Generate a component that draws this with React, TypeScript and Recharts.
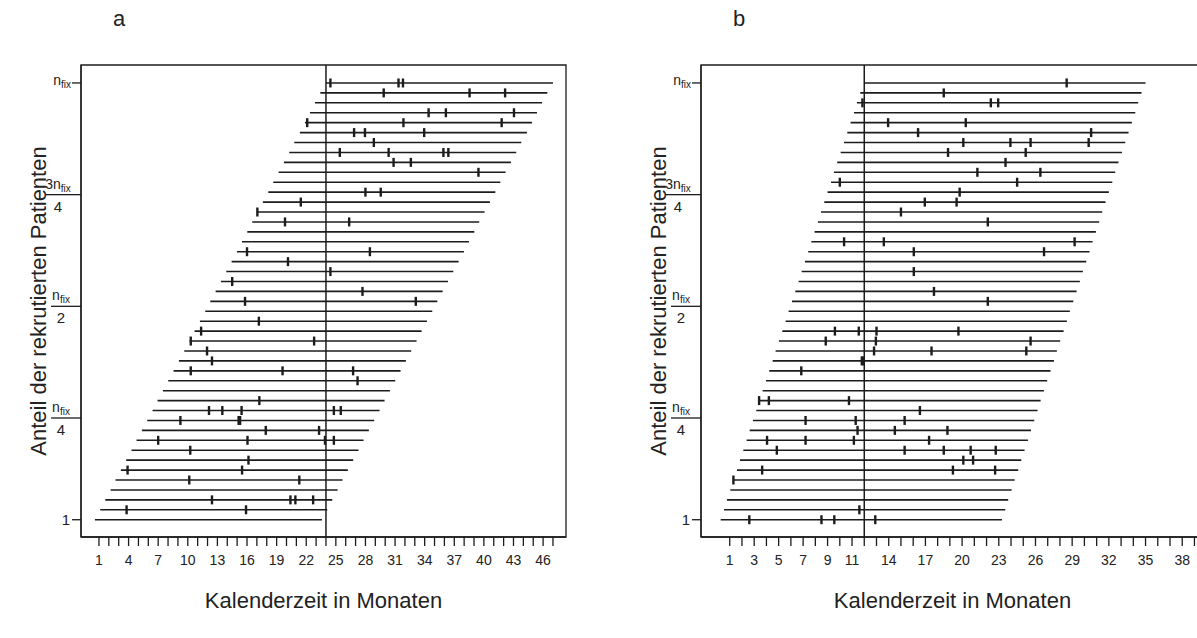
import { ComposedChart, Line, Scatter, XAxis, YAxis, ReferenceLine, ReferenceArea } from "recharts";

const FONT = '"Liberation Sans", Arial, sans-serif';
const INK = "#1c1c1c";

// each patient is followed for the same number of months
const FOLLOW_UP = 23;

// panel a: recruitment over 24 months (patient 1 .. 45, month of entry)
const entryA = [
  0.59, 1.13, 1.64, 2.18, 2.68, 3.22, 3.76, 4.3, 4.81, 5.35,
  5.89, 6.43, 6.94, 7.48, 8.02, 8.56, 9.1, 9.64, 10.18, 10.69,
  11.23, 11.77, 12.28, 12.82, 13.36, 13.9, 14.44, 14.98, 15.49, 16.03,
  16.53, 17.07, 17.61, 18.16, 18.66, 19.2, 19.74, 20.28, 20.79, 21.36,
  21.87, 22.38, 22.89, 23.43, 24.0,
];

// panel a: event times (month) per patient, patient 1 first
const eventsA: number[][] = [
  [], [3.8, 15.9], [12.45, 20.4, 20.9, 22.7], [], [10.15, 21.3],
  [3.9, 15.5], [16.15], [10.25], [7.0, 16.05, 23.9, 24.8], [17.9, 23.3],
  [9.25, 15.15, 15.3], [12.15, 13.5, 15.45, 24.8, 25.5], [17.25], [], [27.2],
  [10.3, 19.6, 26.75], [12.45], [11.95], [10.3, 22.8], [11.35],
  [17.2], [], [15.8, 33.1], [27.7], [14.5],
  [24.45], [20.15], [16.0, 28.45], [], [],
  [19.85, 26.35], [17.05], [21.45], [28.0, 29.55], [],
  [39.45], [30.85, 32.6], [25.4, 30.35, 35.9, 36.4], [28.85], [26.85, 27.95, 33.95],
  [22.1, 31.85, 41.8], [34.4, 36.15, 43.05], [], [29.85, 38.55, 42.15], [24.45, 31.35, 31.8],
];

const monthTicksA = [
  1, 2, 3, 4, 5, 6, 7, 8, 9, 10, 11, 12, 13, 14, 15, 16, 17, 18, 19, 20, 21, 22, 23, 24,
  25, 26, 27, 28, 29, 30, 31, 32, 33, 34, 35, 36, 37, 38, 39, 40, 41, 42, 43, 44, 45, 46, 47,
];
const monthLabelsA = [1, 4, 7, 10, 13, 16, 19, 22, 25, 28, 31, 34, 37, 40, 43, 46];

// panel b: recruitment over 12 months
const entryB = [
  0.26, 0.53, 0.77, 1.05, 1.3, 1.59, 1.84, 2.11, 2.38, 2.63,
  2.9, 3.17, 3.42, 3.69, 3.96, 4.23, 4.51, 4.75, 5.02, 5.3,
  5.57, 5.81, 6.09, 6.36, 6.63, 6.88, 7.15, 7.42, 7.67, 7.94,
  8.21, 8.46, 8.73, 9.0, 9.28, 9.52, 9.79, 10.07, 10.34, 10.61,
  10.88, 11.16, 11.4, 11.67, 12.0,
];

const eventsB: number[][] = [
  [2.6, 8.5, 9.55, 12.9], [11.6], [], [], [1.3],
  [3.65, 19.25, 22.7], [20.1, 20.9], [4.85, 15.3, 18.5, 20.7, 22.75], [4.05, 7.2, 11.15, 17.3], [11.45, 14.5, 18.8],
  [7.2, 11.3, 15.3], [16.55], [3.4, 4.2, 10.75], [], [],
  [6.85], [11.8, 11.9], [12.8, 17.5, 25.25], [8.85, 12.95, 25.6], [9.6, 11.55, 13.0, 19.7],
  [], [], [22.1], [17.7], [],
  [16.05], [], [16.05, 26.7], [10.35, 13.6, 29.2], [],
  [22.1], [15.0], [16.95, 19.55], [19.8], [10.0, 24.5],
  [21.25, 26.4], [23.55], [18.85, 25.2], [20.1, 23.95, 25.6, 30.35], [16.4, 30.55],
  [13.95, 20.3], [], [11.85, 22.35, 22.95], [18.5], [28.55],
];

const monthTicksB = [
  1, 2, 3, 4, 5, 6, 7, 8, 9, 10, 11, 12, 13, 14, 15, 16, 17, 18, 19,
  20, 21, 22, 23, 24, 25, 26, 27, 28, 29, 30, 31, 32, 33, 34, 35, 36, 37, 38, 39,
];
const monthLabelsB = [1, 3, 5, 7, 9, 11, 14, 17, 20, 23, 26, 29, 32, 35, 38];

// y axis: 1, n/4, n/2, 3n/4, n  (n = 45)
const patientTicks = [1, 11.25, 22.5, 33.75, 45];
const Y_DOMAIN: [number, number] = [-0.74, 46.81];

const renderMonthTick = (p: any, labels: number[]) => {
  const { x, y, payload } = p;
  if (!labels.includes(payload.value)) return <g />;
  return (
    <text x={x} y={y + 17} textAnchor="middle" fontSize={14} fill="#222">
      {payload.value}
    </text>
  );
};

const renderPatientTick = (p: any) => {
  const { x, y, payload } = p;
  const v = payload.value;
  if (v === 1) {
    return (
      <text x={x - 1} y={y + 5} textAnchor="end" fontSize={15} fill="#222">1</text>
    );
  }
  if (v === 45) {
    return (
      <text x={x} y={y + 2} textAnchor="end" fontSize={14} fill="#222">
        n<tspan fontSize={10} dy={3}>fix</tspan>
      </text>
    );
  }
  const num = v === 33.75 ? "3n" : "n";
  const den = v === 22.5 ? "2" : "4";
  const w = v === 33.75 ? 26 : 20;
  return (
    <g>
      <text x={x - w / 2} y={y - 6} textAnchor="middle" fontSize={14} fill="#222">
        {num}<tspan fontSize={10} dy={3}>fix</tspan>
      </text>
      <line x1={x - w} x2={x + 1} y1={y} y2={y} stroke={INK} strokeWidth={1.3} />
      <text x={x - w / 2} y={y + 17} textAnchor="middle" fontSize={15} fill="#222">{den}</text>
    </g>
  );
};

const EventMark = (p: any) => (
  <line x1={p.cx} x2={p.cx} y1={p.cy - 4.5} y2={p.cy + 4.5} stroke={INK} strokeWidth={2.4} />
);

interface PanelProps {
  entries: number[];
  events: number[][];
  ticks: number[];
  labels: number[];
  xDomain: [number, number];
  cutoff: number;
  width: number;
  rightMargin: number;
}

const Panel = ({ entries, events, ticks, labels, xDomain, cutoff, width, rightMargin }: PanelProps) => {
  const eventPoints = events.flatMap((ev, i) => ev.map((m) => ({ x: m, y: i + 1 })));
  return (
    <ComposedChart width={width} height={638} margin={{ top: 65, right: rightMargin, bottom: 61, left: 11 }}>
      <XAxis
        type="number"
        dataKey="x"
        domain={xDomain}
        allowDataOverflow
        ticks={ticks}
        interval={0}
        tickSize={9}
        tickMargin={2}
        height={40}
        stroke={INK}
        strokeWidth={1.3}
        tick={(p: any) => renderMonthTick(p, labels)}
        label={{ value: "Kalenderzeit in Monaten", position: "bottom", offset: 15, fontSize: 22, fill: "#222" }}
      />
      <YAxis
        type="number"
        dataKey="y"
        domain={Y_DOMAIN}
        allowDataOverflow
        ticks={patientTicks}
        interval={0}
        tickSize={9}
        tickMargin={1}
        width={70}
        stroke={INK}
        strokeWidth={1.3}
        tick={renderPatientTick}
        label={{
          value: "Anteil der rekrutierten Patienten",
          angle: -90,
          position: "insideLeft",
          offset: 27,
          fontSize: 22,
          fill: "#222",
          style: { textAnchor: "middle" },
        }}
      />
      <ReferenceArea
        x1={xDomain[0]}
        x2={xDomain[1]}
        y1={Y_DOMAIN[0]}
        y2={Y_DOMAIN[1]}
        fill="none"
        stroke={INK}
        strokeWidth={1.3}
        ifOverflow="visible"
      />
      <ReferenceLine x={cutoff} stroke={INK} strokeWidth={1.5} />
      {entries.map((s, i) => (
        <Line
          key={i}
          data={[{ x: s, y: i + 1 }, { x: s + FOLLOW_UP, y: i + 1 }]}
          dataKey="y"
          stroke={INK}
          strokeWidth={1.6}
          dot={false}
          activeDot={false}
          isAnimationActive={false}
        />
      ))}
      <Scatter data={eventPoints} shape={EventMark} isAnimationActive={false} />
    </ComposedChart>
  );
};

export default function App() {
  return (
    <div
      style={{
        position: "absolute",
        left: 0,
        top: 0,
        width: 1197,
        height: 638,
        overflow: "hidden",
        background: "#fff",
        fontFamily: FONT,
      }}
    >
      <div style={{ position: "absolute", left: 0, top: 0 }}>
        <Panel
          entries={entryA}
          events={eventsA}
          ticks={monthTicksA}
          labels={monthLabelsA}
          xDomain={[-0.82, 48.32]}
          cutoff={24}
          width={620}
          rightMargin={54}
        />
      </div>
      <div style={{ position: "absolute", left: 620, top: 0 }}>
        <Panel
          entries={entryB}
          events={eventsB}
          ticks={monthTicksB}
          labels={monthLabelsB}
          xDomain={[-1.35, 39.78]}
          cutoff={12}
          width={590}
          rightMargin={6}
        />
      </div>
      <svg width={1197} height={60} style={{ position: "absolute", left: 0, top: 0 }}>
        <text x={119} y={26} textAnchor="middle" fontSize={22} fill="#222">a</text>
        <text x={739} y={26} textAnchor="middle" fontSize={22} fill="#222">b</text>
      </svg>
    </div>
  );
}
